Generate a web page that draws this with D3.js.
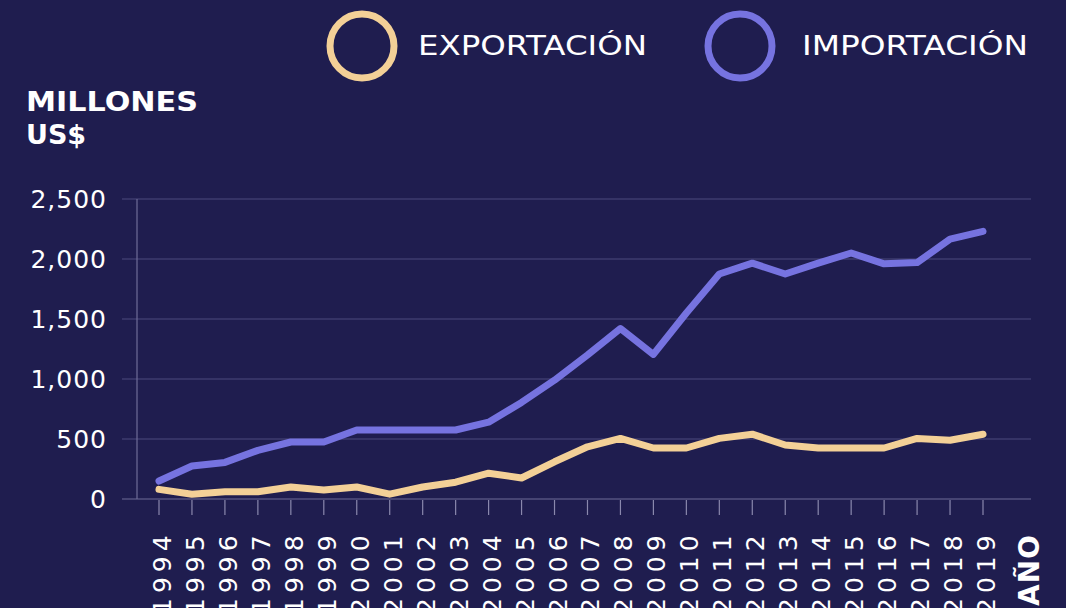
<!DOCTYPE html>
<html>
<head>
<meta charset="utf-8">
<script src="https://cdn.jsdelivr.net/npm/d3@7"></script>
<style>
  html, body { margin: 0; padding: 0; background: #1f1d4f; overflow: hidden; }
  svg { display: block; }
</style>
</head>
<body>
<svg id="chart" width="1066" height="608"></svg>
<script>
const years = ["1994","1995","1996","1997","1998","1999","2000","2001","2002","2003","2004","2005","2006","2007","2008","2009","2010","2011","2012","2013","2014","2015","2016","2017","2018","2019"];
const exportacion = [80, 40, 60, 60, 100, 75, 100, 40, 100, 140, 215, 175, 310, 435, 505, 425, 425, 505, 540, 450, 425, 425, 425, 505, 490, 540];
const importacion = [150, 275, 305, 405, 475, 475, 575, 575, 575, 575, 640, 805, 990, 1200, 1420, 1205, 1550, 1875, 1965, 1875, 1965, 2050, 1960, 1970, 2165, 2230];
const yTicks = [0, 500, 1000, 1500, 2000, 2500];
const seriesNames = ["EXPORTACIÓN", "IMPORTACIÓN"];
const seriesColors = ["#f3d097", "#7673e0"];

const bg = "#1f1d4f";
const svg = d3.select("#chart");
svg.append("rect").attr("width", 1066).attr("height", 608).attr("fill", bg);

const x = d3.scalePoint().domain(years).range([159, 983]);
const y = d3.scaleLinear().domain([0, 2500]).range([499, 199]);
const fmt = d3.format(",");

// gridlines
svg.append("g").selectAll("line").data(yTicks).join("line")
  .attr("x1", 122).attr("x2", 1031)
  .attr("y1", d => y(d)).attr("y2", d => y(d))
  .attr("stroke", d => d === 0 ? "#6f6d98" : "#4d4b7e").attr("stroke-width", 1.2);

// y axis vertical line
svg.append("line").attr("x1", 137).attr("x2", 137).attr("y1", y(2500)).attr("y2", y(0))
  .attr("stroke", "#6f6d98").attr("stroke-width", 1.2);

// y labels
svg.append("g").selectAll("text").data(yTicks).join("text")
  .attr("x", 107).attr("y", d => y(d)).attr("dy", "0.36em")
  .attr("text-anchor", "end")
  .attr("font-family", "DejaVu Sans").attr("font-size", 25)
  .attr("letter-spacing", 1)
  .attr("fill", "#ffffff")
  .text(d => fmt(d));

// x ticks
svg.append("g").selectAll("line").data(years).join("line")
  .attr("x1", d => x(d)).attr("x2", d => x(d))
  .attr("y1", 500).attr("y2", 515)
  .attr("stroke", "#8a88ad").attr("stroke-width", 1.2);

// x labels
svg.append("g").selectAll("text").data(years).join("text")
  .attr("transform", d => `translate(${x(d) + 3},614) rotate(-90)`)
  .attr("dy", "0.36em")
  .attr("text-anchor", "start")
  .attr("font-family", "DejaVu Sans").attr("font-size", 25)
  .attr("letter-spacing", 5)
  .attr("fill", "#ffffff")
  .text(d => d);

// AÑO
svg.append("text")
  .attr("transform", "translate(1029,606) rotate(-90)")
  .attr("dy", "0.36em")
  .attr("font-family", "DejaVu Sans").attr("font-weight", "bold").attr("font-size", 28)
  .attr("letter-spacing", 1)
  .attr("fill", "#ffffff")
  .text("AÑO");

// lines
const line = d3.line().x((d, i) => x(years[i])).y(d => y(d));
[exportacion, importacion].forEach((s, k) => {
  svg.append("path").datum(s)
    .attr("d", line)
    .attr("fill", "none")
    .attr("stroke", seriesColors[k])
    .attr("stroke-width", 7)
    .attr("stroke-linejoin", "round")
    .attr("stroke-linecap", "round");
});

// y title
svg.append("text").attr("x", 26).attr("y", 111)
  .attr("font-family", "DejaVu Sans").attr("font-weight", "bold").attr("font-size", 27)
  .attr("fill", "#ffffff")
  .attr("textLength", 172).attr("lengthAdjust", "spacingAndGlyphs")
  .text("MILLONES");
svg.append("text").attr("x", 26).attr("y", 144)
  .attr("font-family", "DejaVu Sans").attr("font-weight", "bold").attr("font-size", 27)
  .attr("fill", "#ffffff")
  .text("US$");

// legend
const legendX = [362, 740];
const legendTextX = [418, 802];
const legendTextW = [229, 226];
seriesNames.forEach((name, k) => {
  svg.append("circle").attr("cx", legendX[k]).attr("cy", 46).attr("r", 32)
    .attr("fill", "none").attr("stroke", seriesColors[k]).attr("stroke-width", 7);
  svg.append("text").attr("x", legendTextX[k]).attr("y", 55)
    .attr("font-family", "DejaVu Sans").attr("font-size", 27)
    .attr("fill", "#ffffff")
    .attr("textLength", legendTextW[k]).attr("lengthAdjust", "spacingAndGlyphs")
    .text(name);
});
</script>
</body>
</html>
